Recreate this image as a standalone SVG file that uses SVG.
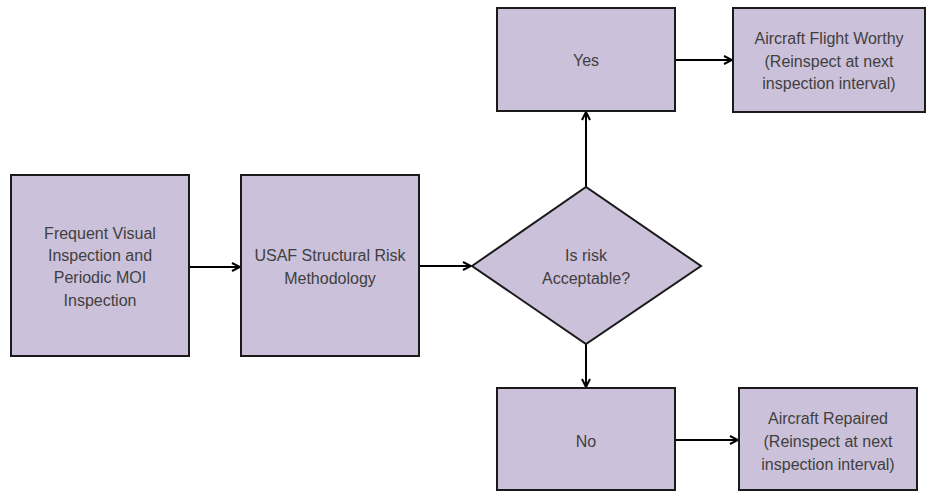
<svg xmlns="http://www.w3.org/2000/svg" width="927" height="491" viewBox="0 0 927 491">
<defs>
<style>
.box{fill:#CCC1DA;stroke:#1a1a1a;stroke-width:2}
.t{font-family:"Liberation Sans",Arial,sans-serif;font-size:16px;fill:#404040;text-anchor:middle}
.c{fill:none;stroke:#000;stroke-width:2}
</style>
<marker id="ah" viewBox="0 0 10 10" refX="9" refY="5" markerWidth="10" markerHeight="10" markerUnits="userSpaceOnUse" orient="auto">
<path d="M1,1 L9,5 L1,9" fill="none" stroke="#000" stroke-width="2"/>
</marker>
</defs>
<rect width="927" height="491" fill="#fff"/>
<g id="connectors">
<line class="c" x1="189" y1="267" x2="240" y2="267" marker-end="url(#ah)"/>
<line class="c" x1="419" y1="266" x2="471" y2="266" marker-end="url(#ah)"/>
<line class="c" x1="586" y1="187" x2="586" y2="112" marker-end="url(#ah)"/>
<line class="c" x1="586" y1="344" x2="586" y2="387" marker-end="url(#ah)"/>
<line class="c" x1="675" y1="60" x2="732" y2="60" marker-end="url(#ah)"/>
<line class="c" x1="675" y1="440" x2="738" y2="440" marker-end="url(#ah)"/>
</g>
<g id="n1">
<rect class="box" x="11" y="175" width="178" height="181"/>
<text class="t" x="100" y="239">Frequent Visual</text>
<text class="t" x="100" y="261">Inspection and</text>
<text class="t" x="100" y="283">Periodic MOI</text>
<text class="t" x="100" y="306">Inspection</text>
</g>
<g id="n2">
<rect class="box" x="241" y="175" width="178" height="181"/>
<text class="t" x="330" y="261">USAF Structural Risk</text>
<text class="t" x="330" y="284">Methodology</text>
</g>
<g id="n3">
<polygon class="box" points="472,266 586,187 701,266 586,344"/>
<text class="t" x="586" y="261">Is risk</text>
<text class="t" x="586" y="284">Acceptable?</text>
</g>
<g id="n4">
<rect class="box" x="497" y="8" width="178" height="103"/>
<text class="t" x="586" y="66">Yes</text>
</g>
<g id="n5">
<rect class="box" x="733" y="8" width="192" height="104"/>
<text class="t" x="829" y="44">Aircraft Flight Worthy</text>
<text class="t" x="829" y="67">(Reinspect at next</text>
<text class="t" x="829" y="89">inspection interval)</text>
</g>
<g id="n6">
<rect class="box" x="497" y="388" width="178" height="102"/>
<text class="t" x="586" y="447">No</text>
</g>
<g id="n7">
<rect class="box" x="739" y="388" width="178" height="102"/>
<text class="t" x="828" y="424">Aircraft Repaired</text>
<text class="t" x="828" y="447">(Reinspect at next</text>
<text class="t" x="828" y="470">inspection interval)</text>
</g>
</svg>
